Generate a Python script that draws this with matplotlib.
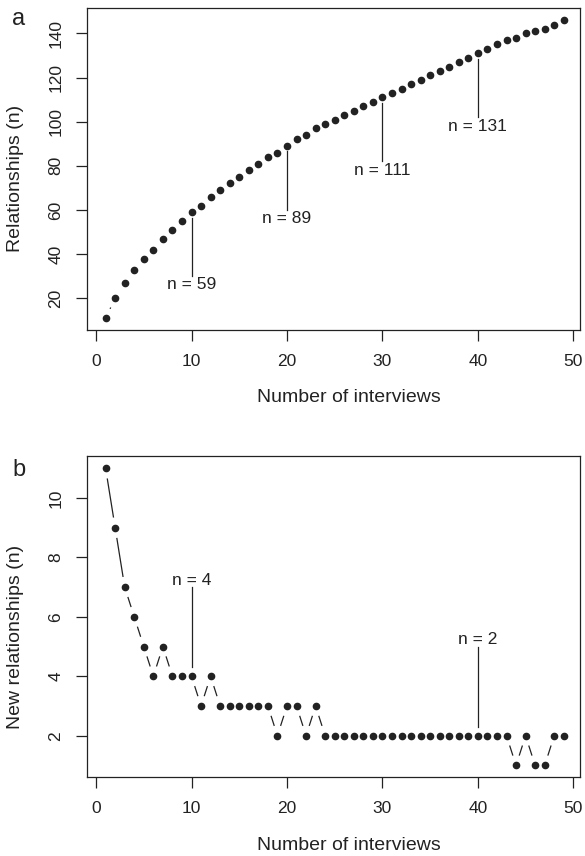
import numpy as np
import matplotlib
matplotlib.use('Agg')
import matplotlib.pyplot as plt

plt.rcParams['font.family'] = ['Liberation Sans', 'DejaVu Sans']

interviews = list(range(1, 50))
new_rel = [11, 9, 7, 6, 5, 4, 5, 4, 4, 4,
           3, 4, 3, 3, 3, 3, 3, 3, 2, 3,
           3, 2, 3, 2, 2, 2, 2, 2, 2, 2,
           2, 2, 2, 2, 2, 2, 2, 2, 2, 2,
           2, 2, 2, 1, 2, 1, 1, 2, 2]
cum_rel = list(np.cumsum(new_rel))

marks_a = [10, 20, 30, 40]
marks_b = [10, 40]

ink = '#222222'
fs_tick = 12.5
fs_lab = 14

W, H = 585, 856
fig = plt.figure(figsize=(W / 100, H / 100), dpi=100)
ax1 = fig.add_axes([87 / W, 1 - 330 / H, 493 / W, 321.7 / H])
ax2 = fig.add_axes([87 / W, 1 - 777.3 / H, 493 / W, 320.9 / H])


def rlim(v):
    lo, hi = min(v), max(v)
    d = (hi - lo) * 0.04
    return lo - d, hi + d


def type_b(ax, x, y, gap=10.3):
    # points joined by segments that stop short of each point, like R type="b"
    ax.plot(x, y, 'o', color=ink, ms=4.5, mec=ink, zorder=3)
    tr = ax.transData
    inv = tr.inverted()
    pts = tr.transform(np.column_stack([x, y]))
    for p, q in zip(pts[:-1], pts[1:]):
        d = q - p
        L = np.hypot(*d)
        if L <= 2 * gap:
            continue
        u = d / L
        a = inv.transform(p + u * gap)
        b = inv.transform(q - u * gap)
        ax.plot([a[0], b[0]], [a[1], b[1]], color=ink, lw=0.9, solid_capstyle='butt')


for ax in (ax1, ax2):
    ax.set_xlim(-0.95, 50.7)
    ax.set_xticks([0, 10, 20, 30, 40, 50])
    for s in ax.spines.values():
        s.set_linewidth(0.9)
        s.set_color(ink)
    ax.tick_params(direction='out', length=8, width=0.9, color=ink,
                   labelsize=fs_tick, labelcolor=ink, pad=9)
    ax.set_xlabel('Number of interviews', fontsize=fs_lab, color=ink, va='center')

ax1.set_ylim(rlim(cum_rel))
ax1.set_yticks([20, 40, 60, 80, 100, 120, 140])
ax2.set_ylim(rlim(new_rel))
ax2.set_yticks([2, 4, 6, 8, 10])
for ax in (ax1, ax2):
    for lab in ax.get_yticklabels():
        lab.set_rotation(90)
        lab.set_va('center')

ax1.set_ylabel('Relationships (n)', fontsize=fs_lab, color=ink, va='center')
ax2.set_ylabel('New relationships (n)', fontsize=fs_lab, color=ink, va='center')

xl = (15.5 - 87) / 493
ax1.yaxis.set_label_coords(xl, 0.4725)
ax2.yaxis.set_label_coords(xl, 0.437)
ax1.xaxis.set_label_coords((348.5 - 87) / 493, (330 - 397) / 321.7)
ax2.xaxis.set_label_coords((348.5 - 87) / 493, (777.3 - 845) / 320.9)

type_b(ax1, interviews, cum_rel)
type_b(ax2, interviews, new_rel)

for m in marks_a:
    v = cum_rel[m - 1]
    ax1.plot([m, m], [v - 2.5, v - 29], color=ink, lw=0.9)
    ax1.text(m, v - 33, 'n = %d' % v, ha='center', va='center', fontsize=fs_tick, color=ink)

for m in marks_b:
    v = new_rel[m - 1]
    top = 7.0 if v == 4 else 5.0
    ax2.plot([m, m], [v + 0.3, top], color=ink, lw=0.9)
    ax2.text(m, top + 0.24, 'n = %d' % v, ha='center', va='center', fontsize=fs_tick, color=ink)

fig.text(19 / W, 1 - 19 / H, 'a', fontsize=17, color=ink, ha='center', va='center')
fig.text(19 / W, 1 - 470 / H, 'b', fontsize=17, color=ink, ha='center', va='center')

fig.savefig('out.png', dpi=100)
